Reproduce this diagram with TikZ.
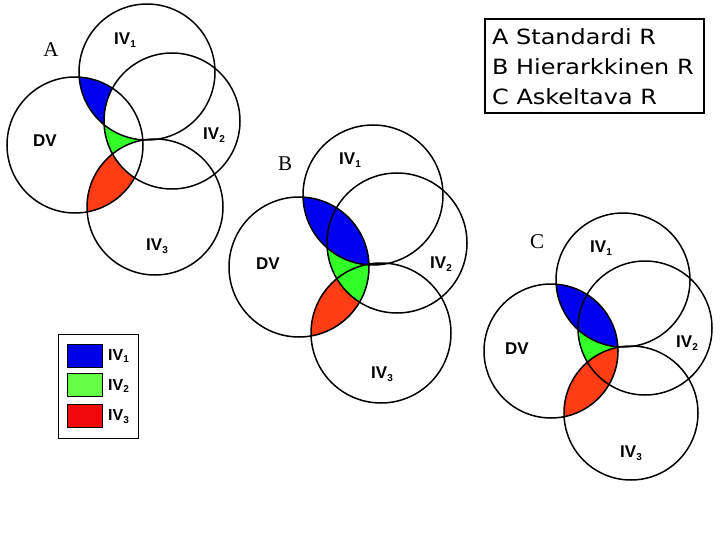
\documentclass[tikz,border=0pt]{standalone}
\usepackage{fontspec}
\setmainfont{Liberation Sans}
\newfontfamily\verdfont{DejaVu Sans}
\newfontfamily\tmsfont{Liberation Serif}
\definecolor{vblue}{RGB}{0,0,240}
\definecolor{vgreen}{RGB}{50,255,40}
\definecolor{vred}{RGB}{255,60,20}
\definecolor{lblue}{RGB}{0,0,230}
\definecolor{lgreen}{RGB}{100,255,70}
\definecolor{lred}{RGB}{240,10,10}
\newcommand\ivl[1]{IV\raisebox{-0.35ex}{\fontsize{10}{10}\selectfont #1}}
\newcommand\ivs[1]{IV\raisebox{-0.35ex}{\fontsize{10}{10}\selectfont #1}}
\tikzset{
  ring/.style={draw=black,line width=1.5pt},
  clabel/.style={font=\fontsize{17}{17}\selectfont\bfseries,inner sep=0pt},
  dlabel/.style={font=\fontsize{21}{21}\selectfont\tmsfont,inner sep=0pt},
  swatch/.style={draw=black,line width=0.6pt},
  slabel/.style={font=\fontsize{16}{16}\selectfont\bfseries,inner sep=0pt,anchor=west},
  ttext/.style={anchor=west,inner sep=0pt,font=\fontsize{21}{21}\selectfont\verdfont}
}
\begin{document}
\begin{tikzpicture}[x=1pt,y=-1pt]
\useasboundingbox (0,0) rectangle (720,540);
\fill[white] (0,0) rectangle (720,540);

% ---------- A ----------
\def\r{68}
\coordinate (aDV) at (75,145);
\coordinate (aI1) at (147,72);
\coordinate (aI2) at (172,121);
\coordinate (aI3) at (155,207);
\begin{scope}\clip (aDV) circle (\r);\clip (aI1) circle (\r);\fill[vblue] (aDV) circle (\r);\end{scope}
\begin{scope}\clip (aDV) circle (\r);\clip (aI2) circle (\r);\fill[vgreen] (aDV) circle (\r);\end{scope}
\begin{scope}\clip (aDV) circle (\r);\clip (aI3) circle (\r);\fill[vred] (aDV) circle (\r);\end{scope}
\begin{scope}\clip (aDV) circle (\r);\clip (aI1) circle (\r);\clip (aI2) circle (\r);\fill[white] (aDV) circle (\r);\end{scope}
\begin{scope}\clip (aDV) circle (\r);\clip (aI2) circle (\r);\clip (aI3) circle (\r);\fill[white] (aDV) circle (\r);\end{scope}
\begin{scope}\clip (aDV) circle (\r);\clip (aI1) circle (\r);\clip (aI3) circle (\r);\fill[white] (aDV) circle (\r);\end{scope}
\foreach \c in {aDV,aI1,aI2,aI3} \draw[ring] (\c) circle (\r);
\node[dlabel] (aA) at (51,50) {A};
\node[clabel] (aLdv) at (45,141) {DV};
\node[clabel] (aL1) at (125,40) {\ivl{1}};
\node[clabel] (aL2) at (214,135) {\ivl{2}};
\node[clabel] (aL3) at (157,246) {\ivl{3}};

% ---------- B ----------
\def\r{70}
\coordinate (bDV) at (299,267);
\coordinate (bI1) at (373,195);
\coordinate (bI2) at (397,243);
\coordinate (bI3) at (381,333);
\begin{scope}\clip (bDV) circle (\r);\clip (bI3) circle (\r);\fill[vred] (bDV) circle (\r);\end{scope}
\begin{scope}\clip (bDV) circle (\r);\clip (bI2) circle (\r);\fill[vgreen] (bDV) circle (\r);\end{scope}
\begin{scope}\clip (bDV) circle (\r);\clip (bI1) circle (\r);\fill[vblue] (bDV) circle (\r);\end{scope}
\foreach \c in {bDV,bI1,bI2,bI3} \draw[ring] (\c) circle (\r);
\node[dlabel] (bB) at (285,164) {B};
\node[clabel] (bLdv) at (268,264) {DV};
\node[clabel] (bL1) at (350,160) {\ivl{1}};
\node[clabel] (bL2) at (441,264) {\ivl{2}};
\node[clabel] (bL3) at (382,374) {\ivl{3}};

% ---------- C ----------
\def\r{67}
\coordinate (cDV) at (551,351);
\coordinate (cI1) at (623,280);
\coordinate (cI2) at (645,328);
\coordinate (cI3) at (631,413);
\begin{scope}\clip (cDV) circle (\r);\clip (cI2) circle (\r);\fill[vgreen] (cDV) circle (\r);\end{scope}
\begin{scope}\clip (cDV) circle (\r);\clip (cI3) circle (\r);\fill[vred] (cDV) circle (\r);\end{scope}
\begin{scope}\clip (cDV) circle (\r);\clip (cI1) circle (\r);\fill[vblue] (cDV) circle (\r);\end{scope}
\foreach \c in {cDV,cI1,cI2,cI3} \draw[ring] (\c) circle (\r);
\node[dlabel] (cC) at (537,242) {C};
\node[clabel] (cLdv) at (517,349) {DV};
\node[clabel] (cL1) at (601,248) {\ivl{1}};
\node[clabel] (cL2) at (687,343) {\ivl{2}};
\node[clabel] (cL3) at (631,453) {\ivl{3}};

% ---------- title box ----------
\draw[line width=1.8pt] (485,19) rectangle (704,113);
\node[ttext] (t1) at (492,37) {\scalebox{1.14}[1]{A Standardi R}};
\node[ttext] (t2) at (492,67) {\scalebox{1.14}[1]{B Hierarkkinen R}};
\node[ttext] (t3) at (492,97) {\scalebox{1.14}[1]{C Askeltava R}};

% ---------- legend ----------
\draw[line width=0.8pt] (58,334) rectangle (138,438);
\filldraw[swatch,fill=lblue] (67,344) rectangle (102,367);
\filldraw[swatch,fill=lgreen] (67,373) rectangle (102,396);
\filldraw[swatch,fill=lred] (67,404) rectangle (102,427);
\node[slabel] (l1) at (108,356) {\ivs{1}};
\node[slabel] (l2) at (108,386) {\ivs{2}};
\node[slabel] (l3) at (108,417) {\ivs{3}};
\end{tikzpicture}
\end{document}
